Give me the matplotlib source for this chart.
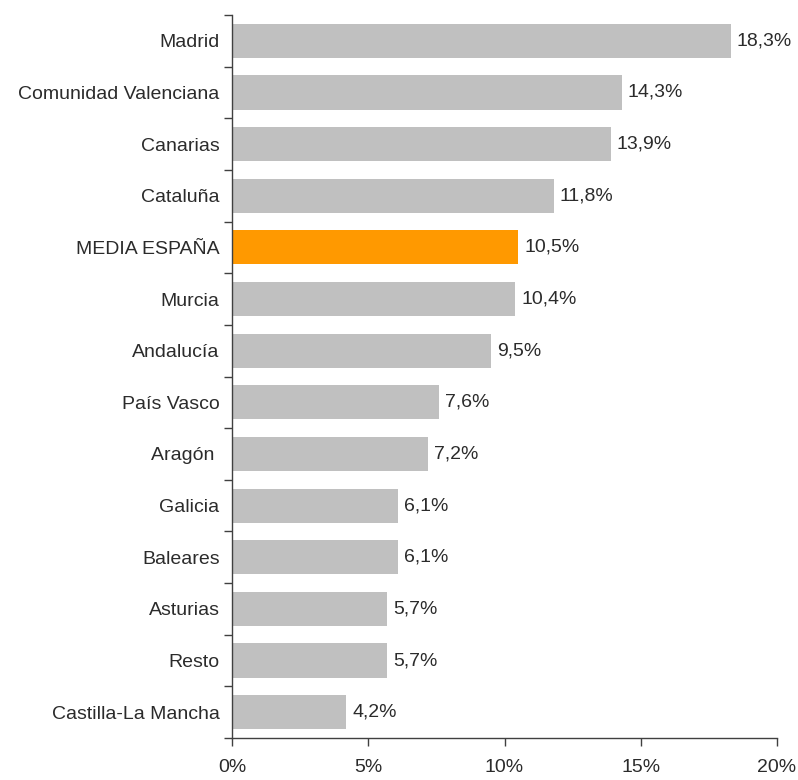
import matplotlib
matplotlib.use("Agg")
import matplotlib.pyplot as plt
import numpy as np

categories = ["Madrid", "Comunidad Valenciana", "Canarias", "Cataluña", "MEDIA ESPAÑA",
              "Murcia", "Andalucía", "País Vasco", "Aragón ", "Galicia", "Baleares",
              "Asturias", "Resto", "Castilla-La Mancha"]
values = [18.3, 14.3, 13.9, 11.8, 10.5, 10.4, 9.5, 7.6, 7.2, 6.1, 6.1, 5.7, 5.7, 4.2]
highlight = "MEDIA ESPAÑA"
xticks = [0, 5, 10, 15, 20]

plt.rcParams['font.family'] = ['Liberation Sans', 'DejaVu Sans']
txt = '#2b2b2b'

fig = plt.figure(figsize=(7.98, 7.8), dpi=100)
ax = fig.add_axes([232/798, 1 - 738/780, (777 - 232)/798, (738 - 15)/780])

n = len(categories)
y = np.arange(n)
colors = ['#FF9900' if c == highlight else '#C0C0C0' for c in categories]
ax.barh(y, values, height=0.66, color=colors, edgecolor='none')

for yi, v in zip(y, values):
    ax.text(v + 0.22, yi, f"{v:.1f}%".replace('.', ','), va='center', ha='left',
            fontsize=14, color=txt)

ax.set_ylim(n - 0.5, -0.5)
ax.set_xlim(0, 20)
ax.set_yticks(y)
ax.set_yticklabels(categories, fontsize=14, color=txt)
ax.set_yticks(np.arange(-0.5, n, 1), minor=True)
ax.tick_params(axis='y', which='major', length=0, pad=9)
ax.tick_params(axis='y', which='minor', length=6, width=1, color='#404040', direction='out')
ax.set_xticks(xticks)
ax.set_xticklabels([f"{t}%" for t in xticks], fontsize=14, color=txt)
ax.tick_params(axis='x', length=6, width=1, color='#404040', direction='out', pad=9)

for s in ['top', 'right']:
    ax.spines[s].set_visible(False)
for s in ['left', 'bottom']:
    ax.spines[s].set_color('#404040')
    ax.spines[s].set_linewidth(1)

fig.savefig("out.png", dpi=100)
